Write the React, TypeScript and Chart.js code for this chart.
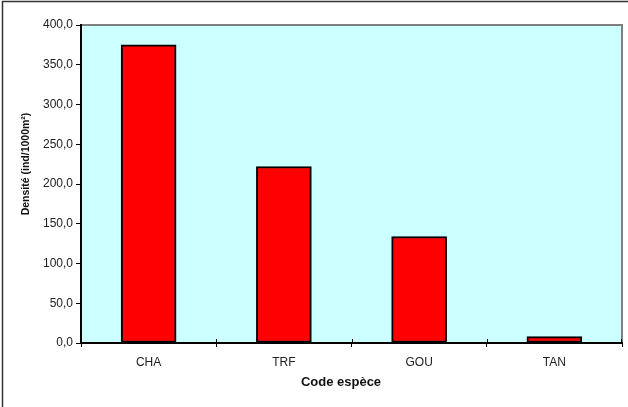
import React, { useEffect, useRef } from "react";
import { Chart, registerables } from "chart.js";

Chart.register(...registerables);

const categories = ["CHA", "TRF", "GOU", "TAN"];
const densities = [375, 222, 134, 8];
const yTicks = [0, 50, 100, 150, 200, 250, 300, 350, 400];
const xTitle = "Code espèce";
const yTitle = "Densité (ind/1000m²)";

const FONT = "'Liberation Sans', Arial, sans-serif";

const decor = {
  id: "decor",
  beforeDraw(chart: any) {
    const { ctx, chartArea } = chart;
    ctx.save();
    ctx.fillStyle = "#ffffff";
    ctx.fillRect(0, 0, chart.width, chart.height);
    ctx.fillStyle = "#ccffff";
    ctx.fillRect(chartArea.left, chartArea.top, chartArea.right - chartArea.left, chartArea.bottom - chartArea.top);
    // outer frame
    ctx.strokeStyle = "#333333";
    ctx.lineWidth = 1.5;
    ctx.beginPath();
    ctx.moveTo(2.5, chart.height);
    ctx.lineTo(2.5, 1.5);
    ctx.lineTo(chart.width, 1.5);
    ctx.stroke();
    // top / right plot border
    ctx.strokeStyle = "#808080";
    ctx.lineWidth = 2;
    ctx.beginPath();
    ctx.moveTo(chartArea.left, chartArea.top);
    ctx.lineTo(chartArea.right, chartArea.top);
    ctx.lineTo(chartArea.right, chartArea.bottom);
    ctx.stroke();
    ctx.restore();
  },
  afterDraw(chart: any) {
    const { ctx, chartArea } = chart;
    const xs = chart.scales.x;
    ctx.save();
    // inner half of x tick marks (crossing ticks)
    ctx.strokeStyle = "#000";
    ctx.lineWidth = 1;
    for (let i = 1; i <= categories.length; i++) {
      const px = Math.round((xs.getPixelForValue(i - 1) + xs.getPixelForValue(i)) / 2) + 0.5;
      const right = i === categories.length ? chartArea.right - 0.5 : px;
      ctx.beginPath();
      ctx.moveTo(right, chartArea.bottom - 4);
      ctx.lineTo(right, chartArea.bottom);
      ctx.stroke();
    }
    ctx.fillStyle = "#111";
    ctx.textAlign = "center";
    ctx.textBaseline = "middle";
    ctx.font = `bold 13px ${FONT}`;
    ctx.fillText(xTitle, 341, 382);
    ctx.translate(26, 164);
    ctx.rotate(-Math.PI / 2);
    ctx.font = `bold 10.5px ${FONT}`;
    ctx.fillText(yTitle, 0, 0);
    ctx.restore();
  },
};

export default function App() {
  const ref = useRef<HTMLCanvasElement | null>(null);
  useEffect(() => {
    if (!ref.current) return;
    const chart = new Chart(ref.current, {
      type: "bar",
      data: {
        labels: categories,
        datasets: [
          {
            data: densities,
            backgroundColor: "#ff0000",
            borderColor: "#000000",
            borderWidth: 2,
            borderSkipped: false,
            barThickness: 55,
          },
        ],
      },
      options: {
        animation: false,
        responsive: false,
        devicePixelRatio: 1,
        layout: { padding: { top: 25, right: 6, left: 0, bottom: 0 } },
        plugins: { legend: { display: false }, tooltip: { enabled: false } },
        scales: {
          y: {
            min: 0,
            max: 400,
            afterBuildTicks: (scale: any) => {
              scale.ticks = yTicks.map((v) => ({ value: v }));
            },
            afterFit: (scale: any) => {
              scale.width = 81;
            },
            ticks: {
              color: "#222",
              font: { family: FONT, size: 12 },
              padding: 3,
              callback: (v: any) => Number(v).toFixed(1).replace(".", ","),
            },
            grid: { drawOnChartArea: false, drawTicks: true, tickLength: 5, color: "#000", lineWidth: 1 },
            border: { display: true, color: "#000", width: 2 },
          },
          x: {
            afterFit: (scale: any) => {
              scale.height = 64;
            },
            ticks: { color: "#222", font: { family: FONT, size: 12 }, padding: 8 },
            grid: { offset: true, drawOnChartArea: false, drawTicks: true, tickLength: 4, color: "#000", lineWidth: 1 },
            border: { display: true, color: "#000", width: 2 },
          },
        },
      },
      plugins: [decor],
    });
    return () => chart.destroy();
  }, []);
  return (
    <div style={{ position: "absolute", left: 0, top: 0, width: 628, height: 407 }}>
      <canvas ref={ref} width={628} height={407} />
    </div>
  );
}
